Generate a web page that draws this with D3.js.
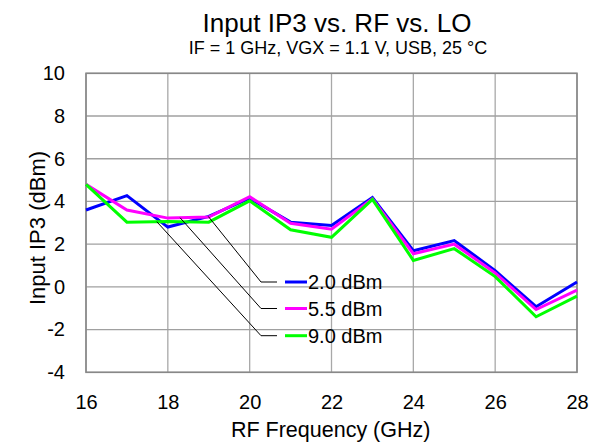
<!DOCTYPE html>
<html><head><meta charset="utf-8">
<script src="https://cdn.jsdelivr.net/npm/d3@7"></script>
<style>body{margin:0;background:#fff}svg{display:block}text{font-family:"Liberation Sans",Arial,sans-serif;fill:#000}</style>
</head><body><svg id="c" width="598" height="442"></svg>
<script>
const freqs = [16,17,18,19,20,21,22,23,24,25,26,27,28];
const lo20 = [3.6,4.27,2.8,3.3,4.15,3.03,2.87,4.18,1.69,2.17,0.76,-0.93,0.23];
const lo55 = [4.8,3.6,3.22,3.27,4.22,2.98,2.7,4.12,1.55,2.0,0.65,-1.06,-0.15];
const lo90 = [4.8,3.03,3.06,3.03,4.03,2.67,2.32,4.1,1.24,1.79,0.48,-1.4,-0.43];
const seriesNames = ["2.0 dBm","5.5 dBm","9.0 dBm"];
const seriesColors = ["#0000ff","#ff00ff","#00ff00"];
const leaderFreqs = [18.99,18.3,17.73];
const xTicks = [16,18,20,22,24,26,28];
const yTicks = [-4,-2,0,2,4,6,8,10];
const title = "Input IP3 vs. RF vs. LO";
const subtitle = "IF = 1 GHz, VGX = 1.1 V, USB, 25 °C";
const xTitle = "RF Frequency (GHz)";
const yTitle = "Input IP3 (dBm)";

const series = [lo20, lo55, lo90];
const svg = d3.select("#c");
const x = d3.scaleLinear().domain([16,28]).range([86,577]);
const y = d3.scaleLinear().domain([-4,10]).range([372.3,73.3]);

// grid
const g = svg.append("g");
g.selectAll("line.v").data(xTicks).join("line")
  .attr("x1",d=>x(d)).attr("x2",d=>x(d)).attr("y1",y(-4)).attr("y2",y(10))
  .attr("stroke","#a8a8a8").attr("stroke-width",1.3);
g.selectAll("line.h").data(yTicks).join("line")
  .attr("x1",x(16)).attr("x2",x(28)).attr("y1",d=>y(d)).attr("y2",d=>y(d))
  .attr("stroke","#a0a0a0").attr("stroke-width",1.3);
svg.append("rect").attr("x",x(16)).attr("y",y(10)).attr("width",x(28)-x(16)).attr("height",y(-4)-y(10))
  .attr("fill","none").attr("stroke","#888").attr("stroke-width",1.6);

// axes labels via d3 axes
const fmt = d => String(d);
const xa = svg.append("g").attr("transform",`translate(0,${y(-4)})`)
  .call(d3.axisBottom(x).tickValues(xTicks).tickSize(0).tickPadding(23).tickFormat(fmt));
xa.select(".domain").remove();
xa.selectAll("text").attr("font-size",20).attr("font-family","Liberation Sans, Arial, sans-serif").attr("fill","#000");
const ya = svg.append("g").attr("transform",`translate(${x(16)},0)`)
  .call(d3.axisLeft(y).tickValues(yTicks).tickSize(0).tickPadding(21).tickFormat(fmt));
ya.select(".domain").remove();
ya.selectAll("text").attr("font-size",20).attr("font-family","Liberation Sans, Arial, sans-serif").attr("fill","#000");

// lines
const line = d3.line().x((d,i)=>x(freqs[i])).y(d=>y(d));
series.forEach((s,k)=>{
  svg.append("path").datum(s).attr("d",line).attr("fill","none")
    .attr("stroke",seriesColors[k]).attr("stroke-width",3).attr("stroke-linejoin","miter");
});

// legend with leader lines
const rowY = [282,308.5,335.7];
function interp(s,f){
  const i = Math.min(freqs.length-2, Math.max(0, d3.bisectRight(freqs,f)-1));
  const t = (f-freqs[i])/(freqs[i+1]-freqs[i]);
  return s[i]+(s[i+1]-s[i])*t;
}
series.forEach((s,k)=>{
  const f = leaderFreqs[k];
  const px = x(f), py = y(interp(s,f));
  svg.append("polyline").attr("points",`${px},${py} 261,${rowY[k]} 277,${rowY[k]}`)
    .attr("fill","none").attr("stroke","#000").attr("stroke-width",1);
  svg.append("line").attr("x1",285).attr("x2",307).attr("y1",rowY[k]).attr("y2",rowY[k])
    .attr("stroke",seriesColors[k]).attr("stroke-width",3);
  svg.append("text").attr("x",308).attr("y",rowY[k]+7.3).attr("font-size",20).text(seriesNames[k]);
});

// titles
svg.append("text").attr("x",337).attr("y",32).attr("text-anchor","middle").attr("font-size",26).text(title);
svg.append("text").attr("x",338).attr("y",53.5).attr("text-anchor","middle").attr("font-size",18).text(subtitle);
svg.append("text").attr("x",330.7).attr("y",437).attr("text-anchor","middle").attr("font-size",21.5).text(xTitle);
svg.append("text").attr("transform","translate(45,228) rotate(-90)").attr("text-anchor","middle").attr("font-size",22).text(yTitle);
</script></body></html>
